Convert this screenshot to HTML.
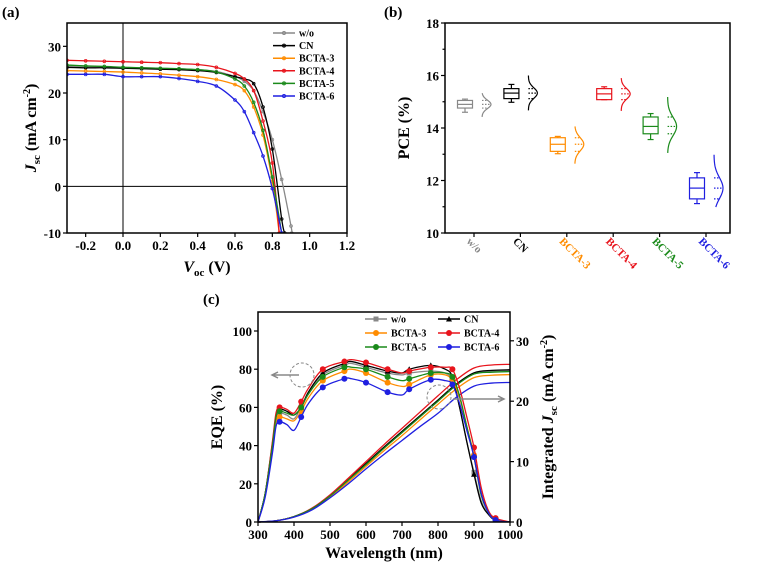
<!DOCTYPE html>
<html><head><meta charset="utf-8"><style>
body{margin:0;background:#fff;width:768px;height:576px;overflow:hidden}
svg{font-family:"Liberation Serif",serif;font-weight:bold}
</style></head><body>
<svg id="s" width="768" height="576" viewBox="0 0 768 576">
<text x="2" y="17" font-size="15">(a)</text>
<text x="384" y="17" font-size="15">(b)</text>
<text x="203" y="304" font-size="15">(c)</text>
<g id="ga"></g>
<g id="gb"></g>
<g id="gc"></g>
</svg>
<script>
// ---- Panel (a) data ----
const jvNames=['w/o','CN','BCTA-3','BCTA-4','BCTA-5','BCTA-6'];
const jvColors=['#888888','#000000','#ff8c00','#e8141c','#1a8a1a','#1f1fe0'];
const jvV=[-0.3,-0.2,-0.1,0,0.1,0.2,0.3,0.4,0.5,0.6,0.65,0.7,0.75,0.8,0.85,0.9];
const jvWo=[25.8,25.7,25.6,25.5,25.4,25.3,25.2,25.0,24.6,23.5,22.5,20.5,16,10,1.5,-8.5];
const jvCN=[25.5,25.4,25.4,25.3,25.2,25.1,25.0,24.8,24.4,23.5,23,22,17,8,-7,null];
const jvB3=[24.8,24.7,24.6,24.5,24.3,24.1,23.8,23.5,22.9,21.8,20.5,17,11,1,null,null];
const jvB4=[27,26.9,26.8,26.7,26.6,26.5,26.3,26.1,25.5,24.2,23,20.5,14,5,null,null];
const jvB5=[26,25.8,25.7,25.5,25.4,25.3,25.2,25.0,24.5,23,21.5,18,12,2,null,null];
const jvB6=[24,24,24,23.5,23.5,23.5,23.1,22.5,21.5,18.5,16,11.5,6.5,-0.5,null,null];
const jvEnd=[[0.904,-10],[0.866,-10],[0.837,-10],[0.837,-10],[0.85,-10],[0.85,-10]];
const jvSeries=[jvWo,jvCN,jvB3,jvB4,jvB5,jvB6];
const jvXTicks=[-0.2,0,0.2,0.4,0.6,0.8,1.0,1.2];
const jvYTicks=[-10,0,10,20,30];

// ---- Panel (b) data ----
const pceCats=['w/o','CN','BCTA-3','BCTA-4','BCTA-5','BCTA-6'];
const pceColors=['#888888','#000000','#ff8c00','#e8141c','#1a8a1a','#1f1fe0'];
const pceQ1=[14.76,15.12,13.11,15.08,13.78,11.3];
const pceMed=[14.9,15.33,13.38,15.3,14.06,11.71];
const pceQ3=[15.05,15.5,13.63,15.5,14.42,12.1];
const pceMin=[14.6,14.98,13.02,15.08,13.56,11.12];
const pceMax=[15.1,15.66,13.68,15.57,14.55,12.3];
const pceDistLo=[14.42,14.67,12.64,14.65,13.05,10.99];
const pceDistHi=[15.33,16.0,14.06,15.9,15.18,12.98];
const pceSd=[0.16,0.2,0.25,0.2,0.35,0.4];
const pceYTicks=[10,12,14,16,18];

// ---- Panel (c) data ----
const eqeNames=['w/o','CN','BCTA-3','BCTA-4','BCTA-5','BCTA-6'];
const eqeColors=['#888888','#000000','#ff8c00','#e8141c','#1a8a1a','#1f1fe0'];
const eqeWl=[300,320,340,350,360,380,400,420,440,480,540,560,600,660,700,720,780,820,840,860,880,900,920,940,960,1000];
const eqeWo=[0,15,40,54,57,56,54,60,67,77,82,83,81,78,77,78,79,78,74,60,42,26,11,4,1,0];
const eqeCN=[0,15,41,55,59,58,56,60,68,78,83,84,82,79,78,80,82,80,76,60,42,25,10,4,1,0];
const eqeB3=[0,14,38,52,55,54,53,58,65,74,79,80,78,73,71,72,77,77,74,65,50,35,15,5,1,0];
const eqeB4=[0,15,42,57,60,59,57,63,70,80,84,85,83.5,80,78,79,81,81,80,70,55,39,18,6,2,0];
const eqeB5=[0,15,40,55,58,57,56,60,67,76,81,81,80,76,74,75,78,78,76,66,50,34,14,5,1,0];
const eqeB6=[0,13,36,50,52.5,51,48,55,62,70.5,75,75,73,68,66.5,69.5,74.5,74,72,62,48,34,15,5,1,0];
const eqeSeries=[eqeWo,eqeCN,eqeB3,eqeB4,eqeB5,eqeB6];
const eqeMarkWl=[360,420,480,540,600,660,720,780,840,900,960];
const jscWl=[300,350,400,450,500,550,600,650,700,750,800,850,900,950,1000];
const jscWo=[0,0.2,0.9,2.2,4.3,6.9,9.6,12.3,14.9,17.5,20.1,22.7,24.6,25.0,25.1];
const jscCN=[0,0.2,0.9,2.2,4.4,7.0,9.7,12.4,15.0,17.6,20.2,22.8,24.7,25.1,25.2];
const jscB3=[0,0.2,0.85,2.1,4.1,6.6,9.2,11.8,14.3,16.9,19.5,22.0,23.9,24.3,24.4];
const jscB4=[0,0.2,0.9,2.3,4.5,7.2,10.0,12.8,15.5,18.2,20.9,23.5,25.5,26.0,26.1];
const jscB5=[0,0.2,0.9,2.2,4.3,6.9,9.5,12.2,14.8,17.4,20.0,22.6,24.5,24.8,24.9];
const jscB6=[0,0.2,0.8,2.0,4.0,6.3,8.8,11.2,13.5,15.8,18.0,20.6,22.5,23.0,23.1];
const jscSeries=[jscWo,jscCN,jscB3,jscB4,jscB5,jscB6];
const eqeXTicks=[300,400,500,600,700,800,900,1000];
const eqeYTicks=[0,20,40,60,80,100];
const jscYTicks=[0,10,20,30];

const NS='http://www.w3.org/2000/svg';
function mk(parent,tag,attrs,txt){const e=document.createElementNS(NS,tag);for(const k in attrs)e.setAttribute(k,attrs[k]);if(txt!==undefined)e.textContent=txt;parent.appendChild(e);return e;}
function smooth(pts){if(pts.length<2)return '';let d='M'+pts[0][0]+','+pts[0][1];for(let i=0;i<pts.length-1;i++){const p0=pts[i-1]||pts[i],p1=pts[i],p2=pts[i+1],p3=pts[i+2]||p2;d+=' C'+(p1[0]+(p2[0]-p0[0])/6)+','+(p1[1]+(p2[1]-p0[1])/6)+' '+(p2[0]-(p3[0]-p1[0])/6)+','+(p2[1]-(p3[1]-p1[1])/6)+' '+p2[0]+','+p2[1];}return d;}

// ===== Panel A =====
(function(){
const g=document.getElementById('ga');
const L=67,R=347,T=23,B=233;
const x=v=>L+(v+0.3)/1.5*(R-L), y=j=>B-(j+10)/45*(B-T);
let cp=mk(g,'clipPath',{id:'cpa'});mk(cp,'rect',{x:L,y:T,width:R-L,height:B-T});
let ln=mk(g,'line',{x1:x(0),x2:x(0),y1:T,y2:B,stroke:'#000','stroke-width':1});

ln=mk(g,'line',{x1:L,x2:R,y1:y(0),y2:y(0),stroke:'#000','stroke-width':1});

jvSeries.forEach((s,i)=>{
  const pts=[];s.forEach((j,k)=>{if(j!==null)pts.push([x(jvV[k]),y(j)]);});
  pts.push([x(jvEnd[i][0]),y(jvEnd[i][1])]);
  const gs=mk(g,'g',{'clip-path':'url(#cpa)'});
  
  
  mk(gs,'path',{d:smooth(pts),fill:'none',stroke:jvColors[i],'stroke-width':1.3});
  pts.forEach(p=>{const c=mk(gs,'circle',{cx:p[0],cy:p[1],r:1.4,fill:'none',stroke:jvColors[i],'stroke-width':0.8});
    });
});
const fr=mk(g,'rect',{x:L,y:T,width:R-L,height:B-T,fill:'none',stroke:'#000','stroke-width':1.5});

jvXTicks.forEach(v=>{mk(g,'line',{x1:x(v),x2:x(v),y1:B,y2:B+4,stroke:'#000','stroke-width':1.2});
  const t=mk(g,'text',{x:x(v),y:B+17,'font-size':13,'text-anchor':'middle'},v.toFixed(1));
  });
jvYTicks.forEach(v=>{mk(g,'line',{x1:L-4,x2:L,y1:y(v),y2:y(v),stroke:'#000','stroke-width':1.2});
  const t=mk(g,'text',{x:L-6,y:y(v)+5,'font-size':13,'text-anchor':'end'},v);
  });
let t=mk(g,'text',{x:207,y:272,'font-size':16,'text-anchor':'middle'});
t.innerHTML='<tspan font-style="italic">V</tspan><tspan font-size="11" dy="4">oc</tspan><tspan dy="-4"> (V)</tspan>';

t=mk(g,'text',{transform:'translate(36,128) rotate(-90)','font-size':16,'text-anchor':'middle'});
t.innerHTML='<tspan font-style="italic">J</tspan><tspan font-size="11" dy="4">sc</tspan><tspan dy="-4"> (mA cm</tspan><tspan font-size="10" dy="-6">-2</tspan><tspan dy="6">)</tspan>';

jvNames.forEach((n,i)=>{const yy=33+i*12.6;const lg=mk(g,'g',{});
  
  mk(lg,'line',{x1:273,x2:295,y1:yy,y2:yy,stroke:jvColors[i],'stroke-width':1.5});
  mk(lg,'circle',{cx:284,cy:yy,r:1.5,fill:'none',stroke:jvColors[i]});
  mk(lg,'text',{x:299,y:yy+3.5,'font-size':10},n);});
})();

// ===== Panel B =====
(function(){
const g=document.getElementById('gb');
const L=445,R=730,T=23,B=233;
const y=v=>B-(v-10)/8*(B-T);
const cx=i=>465+i*46.4;
const fr=mk(g,'rect',{x:L,y:T,width:R-L,height:B-T,fill:'none',stroke:'#000','stroke-width':1.5});

for(let v=10;v<=18;v++){mk(g,'line',{x1:L-(v%2?2.5:4),x2:L,y1:y(v),y2:y(v),stroke:'#000','stroke-width':1.2});}
pceYTicks.forEach(v=>{const t=mk(g,'text',{x:L-6,y:y(v)+5,'font-size':13,'text-anchor':'end'},v);
  });
let t=mk(g,'text',{transform:'translate(409,128) rotate(-90)','font-size':16,'text-anchor':'middle'},'PCE (%)');

pceCats.forEach((n,i)=>{
  const c=cx(i),col=pceColors[i],hw=7.5;
  mk(g,'line',{x1:c+9,x2:c+9,y1:B,y2:B+4,stroke:'#000','stroke-width':1.2});
  const gg=mk(g,'g',{fill:'none',stroke:col,'stroke-width':1.2});
  
  
  mk(gg,'rect',{x:c-hw,y:y(pceQ3[i]),width:2*hw,height:y(pceQ1[i])-y(pceQ3[i])});
  mk(gg,'line',{x1:c-hw,x2:c+hw,y1:y(pceMed[i]),y2:y(pceMed[i])});
  mk(gg,'line',{x1:c,x2:c,y1:y(pceMax[i]),y2:y(pceQ3[i])});
  mk(gg,'line',{x1:c,x2:c,y1:y(pceQ1[i]),y2:y(pceMin[i])});
  mk(gg,'line',{x1:c-3,x2:c+3,y1:y(pceMax[i]),y2:y(pceMax[i])});
  mk(gg,'line',{x1:c-3,x2:c+3,y1:y(pceMin[i]),y2:y(pceMin[i])});
  const b=c+17,W=9;let d='';
  for(let k=0;k<=30;k++){const v=pceDistHi[i]-(pceDistHi[i]-pceDistLo[i])*k/30;
    const w=W*Math.exp(-Math.pow((v-pceMed[i])/pceSd[i],2)/2);d+=(k?'L':'M')+(b+w)+','+y(v);}
  const vp=mk(gg,'path',{d:d});
  
  [pceQ3[i],pceMed[i],pceQ1[i]].forEach(v=>{const w=W*Math.exp(-Math.pow((v-pceMed[i])/pceSd[i],2)/2);
    mk(gg,'line',{x1:b,x2:b+w,y1:y(v),y2:y(v),'stroke-dasharray':'1.5,1.5'});});
  const lt=mk(g,'text',{transform:`translate(${c+1},${B+9}) rotate(45)`,'font-size':11,fill:col,'text-anchor':'start'},n);
  
});
})();

// ===== Panel C =====
(function(){
const g=document.getElementById('gc');
const L=258,R=510,T=312,B=522;
const x=w=>L+(w-300)/700*(R-L), y=v=>B-v*1.91, yr=v=>B-v*6.04;
let cp=mk(g,'clipPath',{id:'cpc'});mk(cp,'rect',{x:L,y:T,width:R-L,height:B-T});
jscSeries.forEach((s,i)=>{const p=mk(g,'path',{d:smooth(s.map((v,k)=>[x(jscWl[k]),yr(v)])),fill:'none',stroke:eqeColors[i],'stroke-width':1.3});
  });
eqeSeries.forEach((s,i)=>{
  const gs=mk(g,'g',{'clip-path':'url(#cpc)'});
  
  
  mk(gs,'path',{d:smooth(s.map((v,k)=>[x(eqeWl[k]),y(v)])),fill:'none',stroke:eqeColors[i],'stroke-width':1.3});
  eqeMarkWl.forEach(w=>{const k=eqeWl.indexOf(w);if(k<0)return;const px=x(w),py=y(s[k]);let m;
    if(i===0)m=mk(gs,'rect',{x:px-2.5,y:py-2.5,width:5,height:5,fill:eqeColors[i]});
    else if(i===1)m=mk(gs,'path',{d:`M${px},${py-3}L${px+3},${py+2.5}L${px-3},${py+2.5}Z`,fill:eqeColors[i]});
    else m=mk(gs,'circle',{cx:px,cy:py,r:3,fill:eqeColors[i]});
    });
});
const fr=mk(g,'rect',{x:L,y:T,width:R-L,height:B-T,fill:'none',stroke:'#000','stroke-width':1.5});

eqeXTicks.forEach(v=>{mk(g,'line',{x1:x(v),x2:x(v),y1:B,y2:B+4,stroke:'#000','stroke-width':1.2});
  const t=mk(g,'text',{x:x(v),y:B+17,'font-size':13,'text-anchor':'middle'},v);
  });
eqeYTicks.forEach(v=>{mk(g,'line',{x1:L-4,x2:L,y1:y(v),y2:y(v),stroke:'#000','stroke-width':1.2});
  const t=mk(g,'text',{x:L-6,y:y(v)+5,'font-size':13,'text-anchor':'end'},v);
  });
jscYTicks.forEach(v=>{mk(g,'line',{x1:R,x2:R+4,y1:yr(v),y2:yr(v),stroke:'#000','stroke-width':1.2});
  const t=mk(g,'text',{x:R+6,y:yr(v)+5,'font-size':13,'text-anchor':'start'},v);
  });
let t=mk(g,'text',{x:384,y:558,'font-size':16,'text-anchor':'middle'},'Wavelength (nm)');

t=mk(g,'text',{transform:'translate(222,417) rotate(-90)','font-size':16,'text-anchor':'middle'},'EQE (%)');

t=mk(g,'text',{transform:'translate(553,417) rotate(-90)','font-size':16,'text-anchor':'middle'});
t.innerHTML='Integrated <tspan font-style="italic">J</tspan><tspan font-size="11" dy="4">sc</tspan><tspan dy="-4"> (mA cm</tspan><tspan font-size="10" dy="-6">-2</tspan><tspan dy="6">)</tspan>';

[[302,375],[439,397]].forEach(c=>{const e=mk(g,'circle',{cx:c[0],cy:c[1],r:12,fill:'none',stroke:'#888','stroke-dasharray':'3,2'});
  });
let a=mk(g,'path',{d:'M299,375 L273,375 M278,372 L272,375 L278,378',fill:'none',stroke:'#888','stroke-width':1.5});

a=mk(g,'path',{d:'M453,399 L504,399 M498,396 L504,399 L498,402',fill:'none',stroke:'#888','stroke-width':1.5});

eqeNames.forEach((n,i)=>{const col=i%2,row=Math.floor(i/2);const lx=col?438:365,yy=319+row*14;
  const lg=mk(g,'g',{});
  mk(lg,'line',{x1:lx,x2:lx+22,y1:yy,y2:yy,stroke:eqeColors[i],'stroke-width':1.6});
  if(i===0)mk(lg,'rect',{x:lx+8.5,y:yy-2.5,width:5,height:5,fill:eqeColors[i]});
  else if(i===1)mk(lg,'path',{d:`M${lx+11},${yy-3}L${lx+14},${yy+2.5}L${lx+8},${yy+2.5}Z`,fill:eqeColors[i]});
  else mk(lg,'circle',{cx:lx+11,cy:yy,r:3,fill:eqeColors[i]});
  mk(lg,'text',{x:lx+26,y:yy+3.5,'font-size':10},n);});
})();
</script>
</body></html>
